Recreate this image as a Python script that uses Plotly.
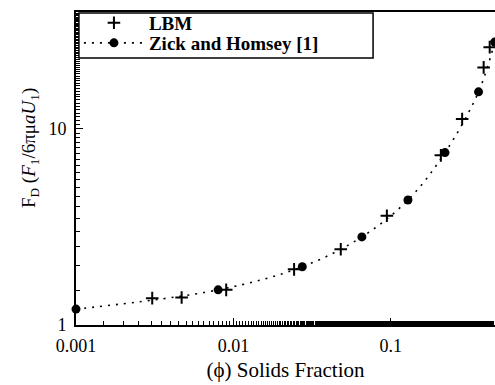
import plotly.graph_objects as go

# Solids fraction and dimensionless drag force
lbm_phi = [0.00305, 0.00469, 0.0090, 0.0243, 0.0481, 0.0944, 0.208, 0.284, 0.389, 0.425]
lbm_fd = [1.37, 1.38, 1.51, 1.92, 2.43, 3.60, 7.31, 11.2, 20.5, 26.0]

zh_phi = [0.001, 0.0080, 0.0274, 0.0655, 0.1285, 0.221, 0.361, 0.457]
zh_fd = [1.205, 1.51, 1.98, 2.81, 4.33, 7.55, 15.4, 27.6]

x_tickvals = [0.001, 0.01, 0.1]
x_ticktext = ["0.001", "0.01", "0.1"]
y_tickvals = [1, 10]
y_ticktext = ["1", "10"]

FONT = "Liberation Serif"
LEG_FONT = dict(family=FONT, size=19, color="black", weight="bold")

fig = go.Figure()

fig.add_trace(go.Scatter(
    x=lbm_phi, y=lbm_fd, mode="markers", name="LBM", legend="legend",
    marker=dict(symbol="cross-thin", size=9, color="black",
                line=dict(color="black", width=2)),
    cliponaxis=False,
))
fig.add_trace(go.Scatter(
    x=zh_phi, y=zh_fd, mode="lines+markers", name="Zick and Homsey [1]", legend="legend2",
    line=dict(color="black", width=1.6, dash="2px,6px", shape="spline"),
    marker=dict(symbol="circle", size=9, color="black"),
    cliponaxis=False,
))

# Framed box around the two legend rows
fig.add_shape(
    type="rect", xref="paper", yref="paper",
    x0=0.007, x1=0.709, y0=0.853, y1=0.997,
    line=dict(color="black", width=1.5), fillcolor="white", layer="above",
)

# Vertical axis label
fig.add_annotation(
    xref="paper", yref="paper", x=-0.11, y=0.565,
    text="F<sub>D</sub> (<i>F</i><sub>1</sub>/6\u03c0\u03bc<i>aU</i><sub>1</sub>)",
    textangle=-90, showarrow=False, xanchor="center", yanchor="middle",
    font=dict(family=FONT, size=19, color="black"),
)

legend_common = dict(
    xanchor="left", yanchor="middle",
    bgcolor="rgba(0,0,0,0)", borderwidth=0,
    font=LEG_FONT, itemwidth=60,
)

fig.update_layout(
    width=495, height=385,
    margin=dict(l=76, r=0, t=12, b=60),
    paper_bgcolor="white", plot_bgcolor="white",
    font=dict(family=FONT, color="black", size=18),
    showlegend=True,
    legend=dict(x=0.007, y=0.965, **legend_common),
    legend2=dict(x=0.007, y=0.901, **legend_common),
)

fig.update_xaxes(
    type="log", range=[-3, -0.338],
    tickvals=x_tickvals, ticktext=x_ticktext,
    ticks="inside", ticklen=7, tickwidth=1.2, tickcolor="black",
    minor=dict(ticks="inside", ticklen=4, tickwidth=1, tickcolor="black", showgrid=False),
    showline=True, linecolor="black", linewidth=2, mirror=True,
    showgrid=False, zeroline=False,
    ticklabelstandoff=3,
    tickfont=dict(family=FONT, size=18, color="black"),
    title=dict(text="(\u03d5) Solids Fraction", font=dict(family=FONT, size=21, color="black"), standoff=8),
)
fig.update_yaxes(
    type="log", range=[0, 1.594],
    tickvals=y_tickvals, ticktext=y_ticktext,
    ticks="inside", ticklen=7, tickwidth=1.2, tickcolor="black",
    minor=dict(ticks="inside", ticklen=4, tickwidth=1, tickcolor="black", showgrid=False),
    showline=True, linecolor="black", linewidth=2, mirror=False,
    showgrid=False, zeroline=False,
    ticklabelstandoff=4,
    tickfont=dict(family=FONT, size=18, color="black"),
)

fig.write_html("out.html")
